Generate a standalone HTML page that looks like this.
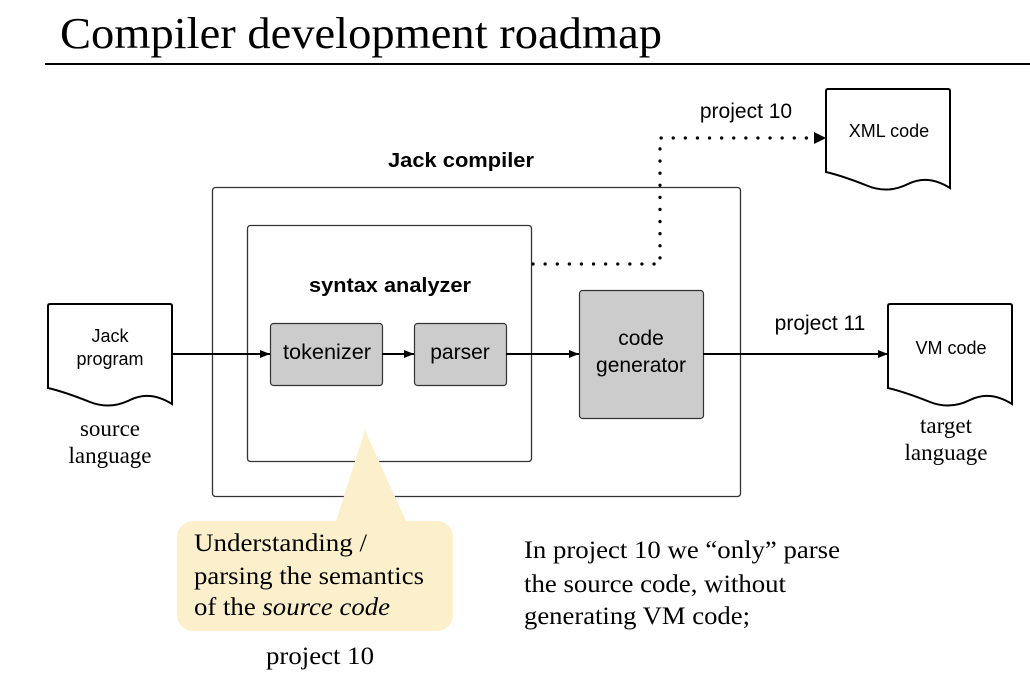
<!DOCTYPE html>
<html><head><style>
html,body{margin:0;padding:0;background:#fff;}
svg{display:block;}
.s{font-family:"Liberation Sans",sans-serif;}
.r{font-family:"Liberation Serif",serif;}
</style></head><body>
<svg width="1030" height="692" viewBox="0 0 1030 692" xmlns="http://www.w3.org/2000/svg">
<defs>
<marker id="a" markerWidth="10" markerHeight="8" refX="10" refY="4" orient="auto" markerUnits="userSpaceOnUse">
<path d="M0,0 L10,4 L0,8 z" fill="#000"/></marker>
</defs>
<text x="60" y="48" class="r" font-size="44" textLength="602" lengthAdjust="spacingAndGlyphs">Compiler development roadmap</text>
<line x1="45" y1="64" x2="1030" y2="64" stroke="#000" stroke-width="2"/>

<text x="388" y="167" class="s" font-size="20" font-weight="bold" textLength="146" lengthAdjust="spacingAndGlyphs">Jack compiler</text>
<rect x="212.5" y="187.5" width="528" height="309" rx="3" fill="none" stroke="#333" stroke-width="1.3"/>
<rect x="247.5" y="225.5" width="284" height="236" rx="3" fill="none" stroke="#333" stroke-width="1.3"/>
<text x="309" y="292" class="s" font-size="20" font-weight="bold" textLength="162" lengthAdjust="spacingAndGlyphs">syntax analyzer</text>

<rect x="270.5" y="323.5" width="112" height="62" rx="3" fill="#ccc" stroke="#333" stroke-width="1.2"/>
<text x="283" y="359" class="s" font-size="21" textLength="88" lengthAdjust="spacingAndGlyphs">tokenizer</text>
<rect x="414.5" y="323.5" width="92" height="62" rx="3" fill="#ccc" stroke="#333" stroke-width="1.2"/>
<text x="460" y="359" class="s" font-size="21" text-anchor="middle">parser</text>
<rect x="579.5" y="290.5" width="124" height="128" rx="3" fill="#ccc" stroke="#333" stroke-width="1.2"/>
<text x="641" y="345" class="s" font-size="21" text-anchor="middle">code</text>
<text x="641" y="372" class="s" font-size="21" text-anchor="middle">generator</text>

<path d="M48,306 Q48,304 50,304 L170,304 Q172,304 172,306 L172,404 Q150,390 130,400 Q110,410 90,402 Q65,392 48,388 Z" fill="#fff" stroke="#000" stroke-width="2"/>
<text x="110" y="342" class="s" font-size="18" text-anchor="middle">Jack</text>
<text x="110" y="365" class="s" font-size="18" text-anchor="middle">program</text>
<path d="M826,91 Q826,89 828,89 L948,89 Q950,89 950,91 L950,188 Q928,174 908,184 Q888,194 868,186 Q843,176 826,172 Z" fill="#fff" stroke="#000" stroke-width="2"/>
<text x="889" y="137" class="s" font-size="18" text-anchor="middle">XML code</text>
<path d="M888,306 Q888,304 890,304 L1010,304 Q1012,304 1012,306 L1012,404 Q990,390 970,400 Q950,410 930,402 Q905,392 888,388 Z" fill="#fff" stroke="#000" stroke-width="2"/>
<text x="951" y="354" class="s" font-size="18" text-anchor="middle">VM code</text>

<line x1="172" y1="354" x2="270" y2="354" stroke="#000" stroke-width="2" marker-end="url(#a)"/>
<line x1="382" y1="354" x2="414" y2="354" stroke="#000" stroke-width="2" marker-end="url(#a)"/>
<line x1="506" y1="354" x2="579" y2="354" stroke="#000" stroke-width="2" marker-end="url(#a)"/>
<line x1="703" y1="354" x2="888" y2="354" stroke="#000" stroke-width="2" marker-end="url(#a)"/>
<polyline points="533,264 660,264 660,138 816,138" fill="none" stroke="#000" stroke-width="3.2" stroke-dasharray="0.1,12" stroke-linecap="round"/>
<path d="M814,132 L826,138 L814,144 z" fill="#000"/>

<text x="746" y="118" class="s" font-size="21" text-anchor="middle">project 10</text>
<text x="820" y="330" class="s" font-size="21" text-anchor="middle">project 11</text>

<text x="110" y="436" class="r" font-size="23" text-anchor="middle">source</text>
<text x="110" y="463" class="r" font-size="23" text-anchor="middle">language</text>
<text x="946" y="433" class="r" font-size="23" text-anchor="middle">target</text>
<text x="946" y="460" class="r" font-size="23" text-anchor="middle">language</text>

<path d="M365,430 L406,521 L336,521 Z" fill="#fcf0cc"/>
<rect x="177" y="521" width="276" height="110" rx="16" fill="#fcf0cc"/>
<text x="194" y="551" class="r" font-size="25" textLength="173" lengthAdjust="spacingAndGlyphs">Understanding /</text>
<text x="194" y="584" class="r" font-size="25" textLength="230" lengthAdjust="spacingAndGlyphs">parsing the semantics</text>
<text x="194" y="615" class="r" font-size="25" textLength="196" lengthAdjust="spacingAndGlyphs">of the <tspan font-style="italic">source code</tspan></text>
<text x="266" y="664" class="r" font-size="25" textLength="108" lengthAdjust="spacingAndGlyphs">project 10</text>

<text x="524" y="558" class="r" font-size="25" textLength="316" lengthAdjust="spacingAndGlyphs">In project 10 we “only” parse</text>
<text x="524" y="592" class="r" font-size="25" textLength="262" lengthAdjust="spacingAndGlyphs">the source code, without</text>
<text x="524" y="624" class="r" font-size="25" textLength="226" lengthAdjust="spacingAndGlyphs">generating VM code;</text>
</svg>
</body></html>
